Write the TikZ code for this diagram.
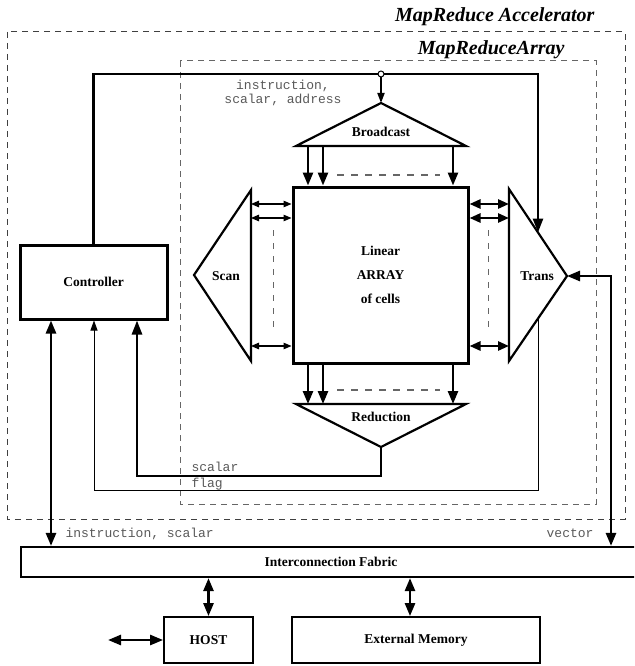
\documentclass[tikz,border=0pt]{standalone}
\usepackage{fontspec}
\setmainfont{Liberation Serif}
\setmonofont{Liberation Mono}
\usetikzlibrary{arrows.meta,calc}
\begin{document}
\begin{tikzpicture}[x=1pt,y=-1pt,
  lbl/.style={font=\bfseries\fontsize{13.5}{24}\selectfont, align=center},
  mono/.style={font=\ttfamily\fontsize{13}{13}\selectfont, text=black!65},
  ttl/.style={font=\bfseries\itshape\fontsize{20}{24}\selectfont},
  dbox/.style={draw=black!75, dash pattern=on 6pt off 5pt, line width=1pt},
  gdash/.style={draw=black!60, dash pattern=on 7pt off 7pt, line width=1.4pt},
  thk/.style={line width=2.6pt},
  thn/.style={line width=0.9pt},
  tri/.style={line width=2.2pt, line join=miter},
  bigA/.style={-{Triangle[length=14pt,width=10pt]}},
  bigAA/.style={{Triangle[length=13pt,width=10pt]}-{Triangle[length=13pt,width=10pt]}},
  midA/.style={-{Triangle[length=13pt,width=10pt]}},
  midAA/.style={{Triangle[length=11pt,width=9pt]}-{Triangle[length=11pt,width=9pt]}},
  smlA/.style={-{Triangle[length=10pt,width=7pt]}},
  smlAA/.style={{Triangle[length=8pt,width=6.5pt]}-{Triangle[length=8pt,width=6.5pt]}},
  blk/.style={draw, inner sep=0pt, lbl}
]
\useasboundingbox (0,0) rectangle (634,666);
\clip (0,0) rectangle (634,666);

% dashed enclosures
\draw[dbox] (7,32) rectangle (625,519);
\draw[dbox, draw=black!60] (180,61) rectangle (596,504);
\node[ttl, anchor=east] (t1) at (598,17) {MapReduce Accelerator};
\node[ttl, anchor=east] (t2) at (568,50) {MapReduceArray};

% main blocks
\node[blk, line width=3pt, minimum width=147pt, minimum height=74pt] (ctrl) at (93.5,282) {Controller};
\node[blk, line width=3pt, minimum width=175pt, minimum height=176pt] (cells) at (380.5,275) {Linear\\ARRAY\\of cells};
\node[blk, line width=2.2pt, minimum width=620pt, minimum height=30pt] (fab) at (331,562) {Interconnection Fabric};
\node[blk, line width=1.8pt, minimum width=89pt, minimum height=46pt] (host) at (208.5,640) {HOST};
\node[blk, line width=1.8pt, minimum width=248pt, minimum height=46pt] (mem) at (416,640) {External Memory};

% triangles
\coordinate (bA) at (381,103); \coordinate (bL) at (296,146); \coordinate (bR) at (466,146);
\draw[tri] (bA) -- (bL) -- (bR) -- cycle;
\node[lbl] (bc) at (381,132) {Broadcast};

\coordinate (rA) at (381,447); \coordinate (rL) at (296,404); \coordinate (rR) at (466,404);
\draw[tri] (rA) -- (rL) -- (rR) -- cycle;
\node[lbl] (rd) at (381,417) {Reduction};

\coordinate (sA) at (194,275); \coordinate (sT) at (251,190); \coordinate (sB) at (251,361);
\draw[tri] (sA) -- (sT) -- (sB) -- cycle;
\node[lbl] (sc) at (226,276) {Scan};

\coordinate (tA) at (567,276); \coordinate (tT) at (509,189); \coordinate (tB) at (509,361);
\draw[tri] (tA) -- (tT) -- (tB) -- cycle;
\node[lbl] (tr) at (537,276) {Trans};

% broadcast -> cells, cells -> reduction
\foreach \x in {308,323,453}{
  \coordinate (cx) at (\x,0);
  \draw[thk, midA] (cx |- bL) -- (cx |- cells.north);
  \draw[thk, midA] (cx |- cells.south) -- (cx |- rL);
}
\draw[gdash] (337,175) -- (440,175);
\draw[gdash] (337,390) -- (440,390);

% scan <-> cells, cells <-> trans
\foreach \y in {204,218,346}{
  \coordinate (cy) at (0,\y);
  \draw[thn, line width=1.1pt, smlAA] (cy -| sT) -- (cy -| cells.west);
  \draw[thk, midAA] (cy -| cells.east) -- (cy -| tT);
}
\draw[gdash, line width=1pt, dash pattern=on 6pt off 7pt] (273,230) -- (273,330);
\draw[gdash, line width=1pt, dash pattern=on 6pt off 7pt] (488,230) -- (488,330);

% controller instruction bus
\coordinate (wtop) at (0,74);
\coordinate (tUp) at ($(tT)!0.5!(tA)$);
\coordinate (tDn) at ($(tB)!0.5!(tA)$);
\draw[thk, bigA, line join=miter] (ctrl.north) -- (ctrl.north |- wtop) -- (tUp |- wtop) -- (tUp);
\node[circle, draw, fill=white, line width=1pt, inner sep=0pt, minimum size=6pt] (junc) at (bA |- wtop) {};
\draw[line width=1.8pt, smlA] (junc.south) -- (bA);
\node[mono, anchor=base] (l1) at (283,90) {instruction,};
\node[mono, anchor=base] (l2) at (283,103) {scalar, address};

% vector path to Trans
\coordinate (vx) at (611,0);
\draw[thk, bigAA, line join=miter] (tA) -- (vx |- tA) -- (vx |- fab.north);
\node[mono, anchor=base east] (l6) at (597,537) {vector};

% scalar and flag back to controller
\coordinate (sx) at (137,0);
\coordinate (fx) at (94,0);
\draw[thk, bigA, line join=miter] (rA) -- ++(0,29) coordinate (rs) -- (sx |- rs) -- (sx |- ctrl.south);
\draw[thn, smlA] (tDn) -- (tDn |- 0,490) coordinate (fl) -- (fx |- fl) -- (fx |- ctrl.south);
\node[mono, anchor=base west] (l3) at (188,471) {scalar};
\node[mono, anchor=base west] (l4) at (188,487) {flag};

% controller <-> fabric
\coordinate (lx) at (51,0);
\draw[thk, bigAA] (lx |- ctrl.south) -- (lx |- fab.north);
\node[mono, anchor=base west] (l5) at (62,537) {instruction, scalar};

% fabric <-> host / memory
\draw[thk, bigAA] (host.north |- fab.south) -- (host.north);
\coordinate (mx) at (410,0);
\draw[thk, bigAA] (mx |- fab.south) -- (mx |- mem.north);
\coordinate (hx) at (108,0);
\draw[thk, bigAA] (hx |- host.west) -- (host.west);
\end{tikzpicture}
\end{document}
